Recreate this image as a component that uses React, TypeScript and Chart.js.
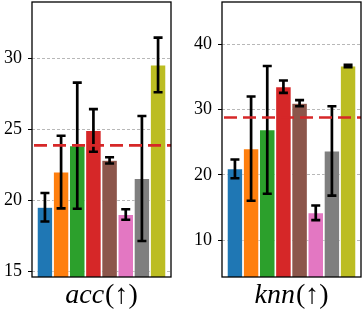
import React, { useEffect, useRef } from "react";
import { Chart, registerables } from "chart.js";

Chart.register(...registerables);

const COLORS = ["#1f77b4", "#ff7f0e", "#2ca02c", "#d62728", "#8c564b", "#e377c2", "#7f7f7f", "#bcbd22"];

const ACC_VALUES = [19.53, 22.0, 23.85, 24.92, 22.82, 19.02, 21.55, 29.52];
const ACC_ERRORS = [1.0, 2.55, 4.43, 1.5, 0.22, 0.37, 4.39, 1.92];
const ACC_MEAN = 23.87;
const ACC_TICKS = [15, 20, 25, 30];
const ACC_MIN = 14.63;
const ACC_MAX = 33.94;
const ACC_LABEL = "acc";

const KNN_VALUES = [20.92, 24.0, 26.88, 33.48, 30.96, 14.2, 23.66, 36.63];
const KNN_ERRORS = [1.43, 7.97, 9.77, 0.95, 0.47, 1.12, 6.83, 0.18];
const KNN_MEAN = 28.78;
const KNN_TICKS = [10, 20, 30, 40];
const KNN_MIN = 4.38;
const KNN_MAX = 46.43;
const KNN_LABEL = "knn";

const ARROW = "(↑)";
const SERIF = '"Liberation Serif", "DejaVu Serif", serif';

type PanelProps = {
  values: number[];
  errors: number[];
  mean: number;
  ticks: number[];
  min: number;
  max: number;
  label: string;
  width: number;
  axisWidth: number;
  padRight: number;
  left: number;
};

function Panel(props: PanelProps) {
  const ref = useRef<HTMLCanvasElement | null>(null);
  useEffect(() => {
    const canvas = ref.current;
    if (!canvas) return;
    const { values, errors, mean, ticks, min, max, label, axisWidth, padRight } = props;

    const overlay = {
      id: "overlay",
      afterDraw(chart: any) {
        const ctx = chart.ctx;
        const y = chart.scales.y;
        const area = chart.chartArea;
        const meta = chart.getDatasetMeta(0);
        ctx.save();
        ctx.beginPath();
        ctx.rect(area.left, area.top, area.right - area.left, area.bottom - area.top);
        ctx.clip();
        // error bars
        ctx.strokeStyle = "#000";
        ctx.lineCap = "butt";
        values.forEach((v, i) => {
          const el = meta.data[i];
          if (!el) return;
          const x = el.x;
          const yt = y.getPixelForValue(v + errors[i]);
          const yb = y.getPixelForValue(v - errors[i]);
          ctx.lineWidth = 2.7;
          ctx.beginPath();
          ctx.moveTo(x, yt);
          ctx.lineTo(x, yb);
          ctx.stroke();
          ctx.lineWidth = 2.6;
          ctx.beginPath();
          ctx.moveTo(x - 4.5, yt);
          ctx.lineTo(x + 4.5, yt);
          ctx.moveTo(x - 4.5, yb);
          ctx.lineTo(x + 4.5, yb);
          ctx.stroke();
        });
        // mean line
        const ym = y.getPixelForValue(mean);
        ctx.strokeStyle = "#d62728";
        ctx.lineWidth = 2.6;
        ctx.setLineDash([13, 6]);
        ctx.beginPath();
        ctx.moveTo(area.left + 2, ym);
        ctx.lineTo(area.right, ym);
        ctx.stroke();
        ctx.restore();

        // frame
        ctx.save();
        ctx.strokeStyle = "#000";
        ctx.lineWidth = 1.3;
        ctx.strokeRect(area.left, area.top, area.right - area.left, area.bottom - area.top);
        ctx.restore();

        // axis label
        ctx.save();
        ctx.fillStyle = "#000";
        ctx.textBaseline = "alphabetic";
        const fIt = "italic 28px " + SERIF;
        const fUp = "28px " + SERIF;
        ctx.font = fIt;
        const w1 = ctx.measureText(label).width + 1;
        ctx.font = fUp;
        const w2 = ctx.measureText(ARROW).width;
        const cx = (area.left + area.right) / 2;
        const x0 = cx - (w1 + w2) / 2;
        ctx.font = fIt;
        ctx.fillText(label, x0, 303);
        ctx.font = fUp;
        ctx.fillText(ARROW, x0 + w1, 303);
        ctx.restore();
      },
    };

    const chart = new Chart(canvas, {
      type: "bar",
      data: {
        datasets: [
          {
            data: values.map((v, i) => ({ x: i, y: v })),
            backgroundColor: COLORS,
            borderColor: "#ffffff",
            borderWidth: 0.5,
            barPercentage: 0.96,
            categoryPercentage: 1,
          },
        ],
      },
      options: {
        responsive: false,
        animation: false,
        layout: { padding: { top: 2, right: padRight, bottom: 34, left: 0 } },
        plugins: { legend: { display: false }, tooltip: { enabled: false }, title: { display: false } },
        scales: {
          x: {
            type: "linear",
            min: -0.8,
            max: 7.8,
            offset: false,
            display: false,
            afterBuildTicks: (scale: any) => {
              scale.ticks = values.map((_, i) => ({ value: i }));
            },
          },
          y: {
            min,
            max,
            z: 1,
            border: { display: false, dash: [3, 2] },
            grid: {
              color: "#b0b0b0",
              lineWidth: 0.9,
              drawTicks: true,
              tickLength: 4,
              tickColor: "#000",
              tickWidth: 1,
              tickBorderDash: [],
            },
            ticks: {
              color: "#000",
              padding: 6,
              font: { family: SERIF, size: 18 },
            },
            afterBuildTicks: (scale: any) => {
              scale.ticks = ticks.map((t) => ({ value: t }));
            },
            afterFit: (scale: any) => {
              scale.width = axisWidth;
              scale.paddingTop = 0;
              scale.paddingBottom = 0;
            },
          },
        },
      },
      plugins: [overlay],
    } as any);
    return () => chart.destroy();
  }, []);
  return (
    <canvas
      ref={ref}
      width={props.width}
      height={311}
      style={{ position: "absolute", left: props.left, top: 0, display: "block" }}
    />
  );
}

export default function App() {
  return (
    <div style={{ position: "absolute", left: 0, top: 0, width: 363, height: 311, background: "#fff" }}>
      <Panel
        values={ACC_VALUES}
        errors={ACC_ERRORS}
        mean={ACC_MEAN}
        ticks={ACC_TICKS}
        min={ACC_MIN}
        max={ACC_MAX}
        label={ACC_LABEL}
        width={181}
        axisWidth={32}
        padRight={10}
        left={0}
      />
      <Panel
        values={KNN_VALUES}
        errors={KNN_ERRORS}
        mean={KNN_MEAN}
        ticks={KNN_TICKS}
        min={KNN_MIN}
        max={KNN_MAX}
        label={KNN_LABEL}
        width={182}
        axisWidth={41}
        padRight={2}
        left={181}
      />
    </div>
  );
}
